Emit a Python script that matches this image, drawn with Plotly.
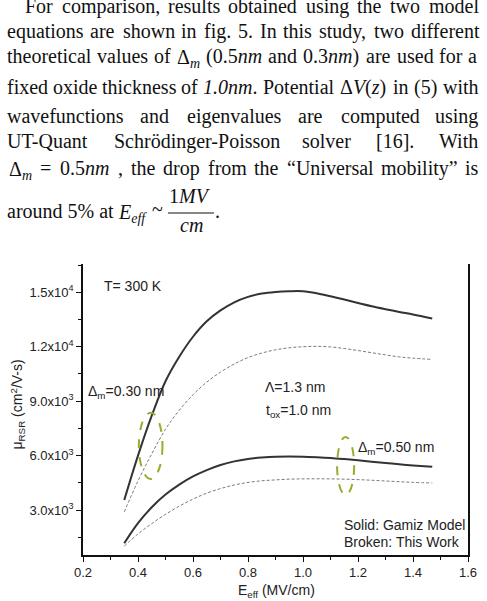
import re
import plotly.graph_objects as go

# ---------------- data ----------------
E_eff = [0.35, 0.40, 0.45, 0.50, 0.55, 0.60, 0.65, 0.70, 0.75, 0.80, 0.85, 0.90,
         0.95, 1.00, 1.05, 1.10, 1.15, 1.20, 1.25, 1.30, 1.35, 1.40, 1.47]
gamiz_030 = [3550, 6000, 8200, 10100, 11450, 12550, 13400, 14000, 14450, 14750, 14930, 15020,
             15060, 15060, 14950, 14780, 14600, 14410, 14230, 14070, 13920, 13780, 13560]
work_030 = [2900, 4600, 6100, 7450, 8500, 9350, 10050, 10600, 11050, 11400, 11650, 11830,
            11940, 12000, 12020, 11990, 11900, 11790, 11670, 11550, 11440, 11370, 11300]
gamiz_050 = [1170, 2280, 3150, 3850, 4400, 4850, 5200, 5480, 5680, 5810, 5890, 5940,
             5950, 5940, 5910, 5870, 5810, 5740, 5660, 5590, 5520, 5460, 5380]
work_050 = [1010, 1680, 2250, 2760, 3210, 3600, 3930, 4180, 4380, 4520, 4610, 4660,
            4700, 4715, 4720, 4715, 4700, 4675, 4640, 4600, 4560, 4525, 4490]

y_tickvals = [3000, 6000, 9000, 12000, 15000]
y_ticktext = ["3.0x10<sup>3</sup>", "6.0x10<sup>3</sup>", "9.0x10<sup>3</sup>",
              "1.2x10<sup>4</sup>", "1.5x10<sup>4</sup>"]

# highlight ellipses (data coords): x0, x1, y0, y1
ellipse_030 = [0.403, 0.489, 4715, 8365]
ellipse_050 = [1.124, 1.186, 3830, 7030]

# ---------------- figure geometry ----------------
W, H = 487, 601
L, R, T, B = 83, 477, 264, 555


def px(xp):
    return (xp - L) / (R - L)


def py(yp):
    return (B - yp) / (B - T)


fig = go.Figure()
solid = dict(color="#333333", width=2)
broken = dict(color="#7a7a7a", width=1, dash="3px,2px")
fig.add_trace(go.Scatter(x=E_eff, y=gamiz_030, mode="lines", line=solid, line_shape="spline"))
fig.add_trace(go.Scatter(x=E_eff, y=work_030, mode="lines", line=broken, line_shape="spline"))
fig.add_trace(go.Scatter(x=E_eff, y=gamiz_050, mode="lines", line=solid, line_shape="spline"))
fig.add_trace(go.Scatter(x=E_eff, y=work_050, mode="lines", line=broken, line_shape="spline"))

for e in (ellipse_030, ellipse_050):
    fig.add_shape(type="circle", xref="x", yref="y", x0=e[0], x1=e[1], y0=e[2], y1=e[3],
                  line=dict(color="#9aab2e", width=2, dash="dash"))

sans = "Liberation Sans, Arial, sans-serif"
serif = "Liberation Serif, Times New Roman, serif"

chart_texts = [
    ("T= 300 K", 0.268, 15330),
    ("Δ<sub>m</sub>=0.30 nm", 0.212, 9500),
    ("Λ=1.3 nm", 0.856, 9780),
    ("t<sub>ox</sub>=1.0 nm", 0.858, 8450),
    ("Δ<sub>m</sub>=0.50 nm", 1.194, 6420),
    ("Solid: Gamiz Model", 1.141, 2170),
    ("Broken: This Work", 1.141, 1235),
]
for t, x, y in chart_texts:
    fig.add_annotation(x=x, y=y, xref="x", yref="y", text=t, showarrow=False,
                       xanchor="left", yanchor="middle",
                       font=dict(family=sans, size=14, color="#222"))

# axis titles
fig.add_annotation(xref="paper", yref="paper", x=px(16), y=py(405), textangle=-90,
                   text="μ<sub>RSR</sub> (cm<sup>2</sup>/V-s)", showarrow=False,
                   xanchor="center", yanchor="middle", font=dict(family=sans, size=14, color="#222"))
fig.add_annotation(xref="paper", yref="paper", x=px(281), y=py(591),
                   text="E<sub>eff</sub> (MV/cm)", showarrow=False,
                   xanchor="center", yanchor="middle", font=dict(family=sans, size=14, color="#222"))

# ---------------- paragraph text (justified) ----------------
_TW = {}
for chars, w in [("abdghnopquvxy0123456789", 500), ("ce", 444), ("ftrI()[]-", 333),
                 ("ijlt", 278), ("m", 778), ("s", 389), ("w", 722), ("z", 444), ("k", 500),
                 (".,", 250), (" ", 250), ("ADGHKNOQUVXY", 722), ("BCR", 667), ("EL", 611),
                 ("FPS", 556), ("M", 889), ("T", 611), ("W", 944), ("ö", 500), ("Δ", 612),
                 ("“”", 444), ("=", 564), ("~", 541), ("%", 833)]:
    for c in chars:
        _TW[c] = w
_TW["t"] = 278
_TW["r"] = 333
_TW["f"] = 333


def measure(html, size):
    total = 0.0
    scale = 1.0
    for part in re.split(r"(<[^>]+>)", html):
        if part.startswith("<"):
            if part in ("<sub>", "<sup>"):
                scale = 0.7
            elif part in ("</sub>", "</sup>"):
                scale = 1.0
            continue
        for ch in part:
            total += _TW.get(ch, 500) / 1000.0 * scale
    return total * size


FS = 20


def put(text, x_left, baseline, anchor="left"):
    yc = baseline - 0.3375 * FS
    if "<sub>" in text:
        yc += 0.1175 * FS
    fig.add_annotation(xref="paper", yref="paper", x=px(x_left), y=py(yc), text=text,
                       showarrow=False, xanchor=anchor, yanchor="middle",
                       font=dict(family=serif, size=FS, color="#111"))


lines = [
    (13, 22, "For comparison, results obtained using the two model"),
    (38, 3, "equations are shown in fig. 5. In this study, two different"),
    (63, 3, "theoretical values of Δ<sub><i>m</i></sub> (0.5<i>nm</i> and 0.3<i>nm</i>) are used for a"),
    (94, 3, "fixed oxide thickness of <i>1.0nm</i>. Potential Δ<i>V</i>(<i>z</i>) in (5) with"),
    (123, 3, "wavefunctions and eigenvalues are computed using"),
    (148, 3, "UT-Quant Schrödinger-Poisson solver [16]. With"),
    (175, 5, "Δ<sub><i>m</i></sub> = 0.5<i>nm</i> , the drop from the “Universal mobility” is"),
]
RIGHT = 485
for base, left, text in lines:
    words = text.split(" ")
    widths = [measure(w, FS) for w in words]
    gap = (RIGHT - left - sum(widths)) / (len(words) - 1)
    x = left
    for w, wd in zip(words, widths):
        put(w, x, base)
        x += wd + gap

put("around 5% at", 3, 218)
put("<i>E</i><sub><i>eff</i></sub>", 117, 218)
put("~", 152, 216)
put("1<i>MV</i>", 193, 203, anchor="center")
put("<i>cm</i>", 194, 232, anchor="center")
put(".", 216, 218)
fig.add_shape(type="line", xref="paper", yref="paper", x0=px(170), x1=px(217),
              y0=py(213), y1=py(213), line=dict(color="#111", width=1.2))

fig.update_layout(
    width=W, height=H,
    margin=dict(l=L, r=W - R, t=T, b=H - B, pad=0),
    paper_bgcolor="white", plot_bgcolor="white",
    showlegend=False,
    xaxis=dict(range=[0.2, 1.6], dtick=0.2, tick0=0.2, tickformat=".1f",
               showgrid=False, zeroline=False, showline=True, linecolor="#111", linewidth=1.5,
               ticks="outside", ticklen=5, tickwidth=1, tickcolor="#111",
               minor=dict(dtick=0.1, ticks="outside", ticklen=3, tickcolor="#111"),
               tickfont=dict(family=sans, size=13, color="#222")),
    xaxis2=dict(overlaying="x", side="top", range=[0.2, 1.6], dtick=0.1, tick0=0.2,
                showticklabels=False, showgrid=False, zeroline=False, showline=True,
                linecolor="#b5b5b5", linewidth=1.5, ticks="inside", ticklen=3, tickcolor="#b5b5b5"),
    yaxis=dict(range=[520, 16560], tickmode="array", tickvals=y_tickvals, ticktext=y_ticktext,
               showgrid=False, zeroline=False, showline=True, linecolor="#111", linewidth=1.5,
               mirror=True, ticks="outside", ticklen=5, tickwidth=1, tickcolor="#111",
               minor=dict(tickmode="linear", tick0=0, dtick=1500, ticks="outside", ticklen=3,
                          tickcolor="#111"),
               tickfont=dict(family=sans, size=13, color="#222")),
)

fig.write_html("out.html")
